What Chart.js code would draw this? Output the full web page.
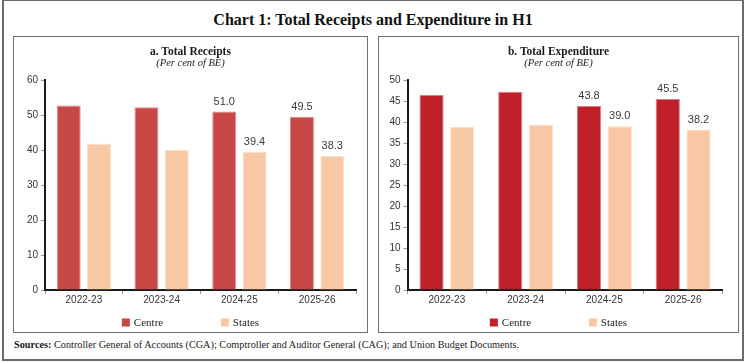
<!DOCTYPE html>
<html><head><meta charset="utf-8">
<script src="https://cdn.jsdelivr.net/npm/chart.js@4.4.1/dist/chart.umd.min.js"></script>
<style>
body{margin:0;background:#fff;width:746px;height:362px;overflow:hidden;position:relative;font-family:"Liberation Serif",serif;}
#frame{position:absolute;left:2px;top:0px;width:742px;height:361px;box-sizing:border-box;border:2px solid #6b6b6b;border-top-width:1px;}
#title{position:absolute;left:0;width:746px;top:11px;text-align:center;font:bold 16px "Liberation Serif";color:#111;}
.panel{position:absolute;top:36px;height:297px;box-sizing:border-box;border:1.5px solid #707070;}
#p1{left:13px;width:355px;}
#p2{left:378px;width:361px;}
.ptitle{position:absolute;left:0;right:0;top:8px;text-align:center;font:bold 11.5px "Liberation Serif";color:#1a1a1a;}
.psub{position:absolute;left:0;right:0;top:20px;text-align:center;font:italic 10.5px "Liberation Serif";color:#1a1a1a;}
.cw{position:absolute;left:0;top:0;right:0;bottom:0;}
#src{position:absolute;left:14px;top:339px;font:10.25px "Liberation Serif";color:#1a1a1a;white-space:nowrap;}
</style></head>
<body>
<div id="frame"></div>
<div id="title">Chart 1: Total Receipts and Expenditure in H1</div>
<div class="panel" id="p1"><div class="cw"><canvas id="c1"></canvas></div><div class="ptitle">a. Total Receipts</div><div class="psub">(Per cent of BE)</div></div>
<div class="panel" id="p2"><div class="cw"><canvas id="c2"></canvas></div><div class="ptitle">b. Total Expenditure</div><div class="psub">(Per cent of BE)</div></div>
<div id="src"><b>Sources:</b> Controller General of Accounts (CGA); Comptroller and Auditor General (CAG); and Union Budget Documents.</div>
<script>
const categories = ['2022-23', '2023-24', '2024-25', '2025-26'];
const seriesNames = ['Centre', 'States'];
const receiptsCentre = [52.7, 52.2, 51.0, 49.5];
const receiptsStates = [41.8, 40.0, 39.4, 38.3];
const expenditureCentre = [46.4, 47.2, 43.8, 45.5];
const expenditureStates = [38.8, 39.4, 39.0, 38.2];
const labelledCategories = ['2024-25', '2025-26'];
const receiptsTicks = [0, 10, 20, 30, 40, 50, 60];
const expenditureTicks = [0, 5, 10, 15, 20, 25, 30, 35, 40, 45, 50];

const dataLabels = {
  id: 'dataLabels',
  afterDatasetsDraw(chart) {
    const ctx = chart.ctx;
    ctx.save();
    ctx.font = '11px "Liberation Sans"';
    ctx.fillStyle = '#3a3a3a';
    ctx.textAlign = 'center';
    ctx.textBaseline = 'middle';
    chart.data.datasets.forEach((ds, i) => {
      chart.getDatasetMeta(i).data.forEach((bar, j) => {
        if (labelledCategories.includes(chart.data.labels[j])) {
          ctx.fillText(ds.data[j].toFixed(1), bar.x, bar.y - 10);
        }
      });
    });
    ctx.restore();
  }
};

const spacedLegend = {
  id: 'spacedLegend',
  afterDraw(chart, args, opts) {
    const ctx = chart.ctx;
    ctx.save();
    ctx.font = '11px "Liberation Serif"';
    ctx.textBaseline = 'middle';
    ctx.textAlign = 'left';
    const ds = chart.data.datasets;
    const box = 8, gap = 4, step = opts.step;
    const lastW = box + gap + ctx.measureText(ds[ds.length - 1].label).width;
    const total = step * (ds.length - 1) + lastW;
    let x = chart.width / 2 - total / 2 + opts.shift;
    ds.forEach(d => {
      ctx.fillStyle = d.backgroundColor;
      ctx.fillRect(x, opts.y - box / 2, box, box);
      ctx.fillStyle = '#222';
      ctx.fillText(d.label, x + box + gap, opts.y + 0.5);
      x += step;
    });
    ctx.restore();
  }
};

function makeChart(id, centre, states, centreColor, centreBorder, ticks, axisW, padRight) {
  const max = ticks[ticks.length - 1];
  const step = ticks[1] - ticks[0];
  return new Chart(document.getElementById(id), {
    type: 'bar',
    data: {
      labels: categories,
      datasets: [
        { label: seriesNames[0], data: centre, backgroundColor: centreColor, borderColor: centreBorder, borderWidth: 1, borderSkipped: 'bottom' },
        { label: seriesNames[1], data: states, backgroundColor: '#F8C8A5', borderColor: '#FCE0CC', borderWidth: 1, borderSkipped: 'bottom' }
      ]
    },
    options: {
      responsive: true,
      maintainAspectRatio: false,
      animation: false,
      devicePixelRatio: 1,
      categoryPercentage: 0.78,
      barPercentage: 0.79,
      layout: { padding: { top: 43, right: padRight, bottom: 26, left: 0 } },
      plugins: {
        legend: { display: false },
        tooltip: { enabled: false },
        spacedLegend: { y: 285.5, step: 99, shift: 0 }
      },
      scales: {
        x: {
          grid: { drawOnChartArea: false, drawTicks: true, tickLength: 4, color: '#999', offset: true },
          border: { display: true, color: '#1a1a1a', width: 2 },
          ticks: { font: { family: 'Liberation Sans', size: 10 }, color: '#333', padding: 0, maxRotation: 0 }
        },
        y: {
          min: 0, max: max,
          afterFit: s => { s.width = axisW; },
          afterBuildTicks: s => { s.ticks = ticks.map(v => ({ value: v })); },
          grid: { drawOnChartArea: false, drawTicks: true, tickLength: 4, color: '#999' },
          border: { display: true, color: '#1a1a1a', width: 2 },
          ticks: { stepSize: step, font: { family: 'Liberation Sans', size: 10 }, color: '#333', padding: 3 }
        }
      }
    },
    plugins: [dataLabels, spacedLegend]
  });
}

makeChart('c1', receiptsCentre, receiptsStates, '#C84747', '#E08C8C', receiptsTicks, 31, 11);
makeChart('c2', expenditureCentre, expenditureStates, '#C0202A', '#DC7E84', expenditureTicks, 28.5, 15.5);
</script>
</body></html>
